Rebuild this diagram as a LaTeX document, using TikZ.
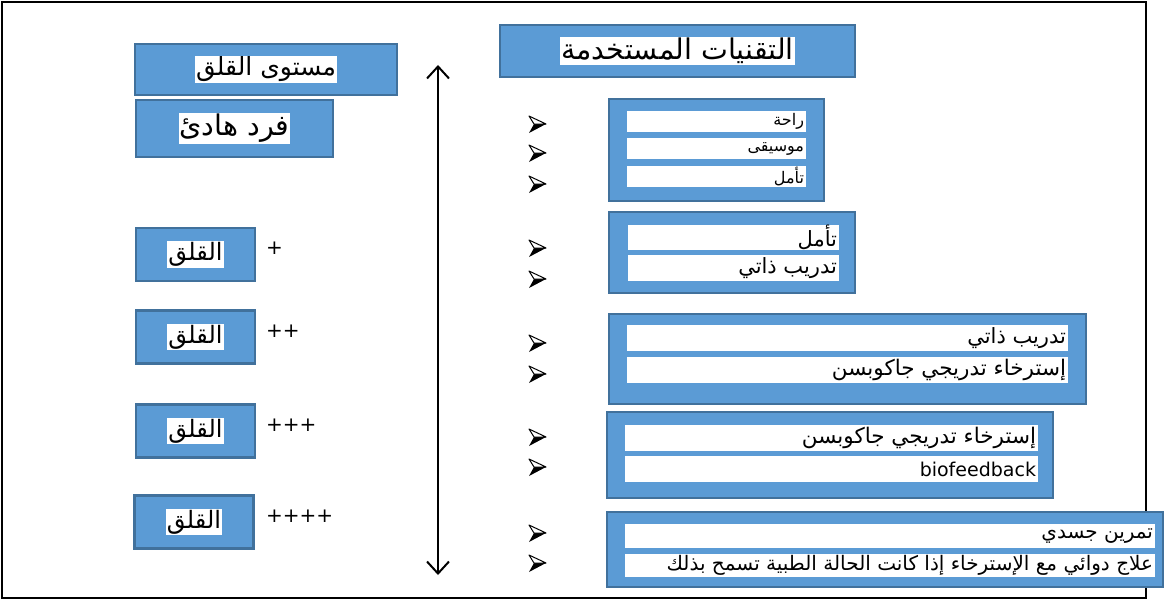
\documentclass[tikz,border=0pt]{standalone}
\usepackage{fontspec}
\usetikzlibrary{arrows.meta}
\TeXXeTstate=1
\newfontfamily\arabicfont[Script=Arabic]{DejaVu Sans}
\newfontfamily\latinfont{DejaVu Sans}
\definecolor{boxblue}{HTML}{5B9BD5}
\definecolor{boxedge}{HTML}{41719C}
\newcommand{\artext}[1]{{\arabicfont\beginR #1\endR}}
\begin{document}
\begin{tikzpicture}[x=1pt,y=-1pt,
  bluebox/.style={draw=boxedge, fill=boxblue, line width=2.5pt, inner sep=0pt},
  whitelabel/.style={fill=white, inner sep=1pt},
  strip/.style={fill=white, inner sep=0pt, minimum height=#1},
  strip/.default=25pt,
  striptext/.style={anchor=east, inner sep=0pt, xshift=-2pt},
  plustext/.style={anchor=west, inner sep=0pt, font=\latinfont\fontsize{20}{22}\selectfont},
  arrowbullet/.pic={
    \fill[black] (-3,0) -- (9,0) -- (-8,9) -- cycle;
    \draw[black, fill=white, line width=1pt, line join=round] (-8,-8) -- (9,0) -- (-3,0) -- cycle;
  }
]
\useasboundingbox (0,0) rectangle (1169,602);
\fill[white] (0,0) rectangle (1169,602);
\draw[line width=1.8pt] (2,2) rectangle (1146,598);

% left column
\node[bluebox, minimum width=262pt, minimum height=51pt] (lvl) at (266,69.5) {};
\node[whitelabel, font=\fontsize{25}{28}\selectfont] (lvltext) at (lvl) {\artext{مستوى القلق}};
\node[bluebox, minimum width=197pt, minimum height=57pt] (calm) at (234.5,128.5) {};
\node[whitelabel, font=\fontsize{28.5}{32}\selectfont] (calmtext) at (calm) {\artext{فرد هادئ}};

\foreach \i/\cx/\cy/\pl in {1/195.5/254.5/+, 2/195.5/337/++, 3/195.5/431/+++, 4/194/522/++++}{
  \node[bluebox, minimum width=119pt, minimum height=53pt] (anx\i) at (\cx,\cy) {};
  \node[whitelabel, font=\fontsize{24}{26}\selectfont] (anxtext\i) at (anx\i) {\artext{القلق}};
  \node[plustext] (plus\i) at (266,\cy-6) {\pl};
}

% vertical double arrow
\coordinate (atop) at (438,65);
\coordinate (abot) at (438,575);
\draw[line width=2pt, {Straight Barb[length=12pt,width=22pt,line width=2pt]}-{Straight Barb[length=12pt,width=22pt,line width=2pt]}] (atop) -- (abot);

% right column
\node[bluebox, minimum width=355pt, minimum height=52pt] (tech) at (677.5,51) {};
\node[whitelabel, font=\fontsize{28.5}{32}\selectfont] (techtext) at (tech) {\artext{التقنيات المستخدمة}};

\node[bluebox, minimum width=215pt, minimum height=102pt] (b1) at (716.5,150) {};
\node[strip=21pt, minimum width=179pt] (s11) at (716.5,121.5) {};
\node[strip=21pt, minimum width=179pt] (s12) at (716.5,148.5) {};
\node[strip=21pt, minimum width=179pt] (s13) at (716.5,176.5) {};
\node[striptext, font=\fontsize{16}{18}\selectfont] (t11) at (s11.east) {\artext{راحة}};
\node[striptext, font=\fontsize{16}{18}\selectfont] (t12) at (s12.east) {\artext{موسيقى}};
\node[striptext, font=\fontsize{16}{18}\selectfont] (t13) at (s13.east) {\artext{تأمل}};

\node[bluebox, minimum width=246pt, minimum height=81pt] (b2) at (732,252.5) {};
\node[strip=25pt, minimum width=211pt] (s21) at (733.5,237.5) {};
\node[strip=26pt, minimum width=211pt] (s22) at (733.5,268) {};
\node[striptext, font=\fontsize{21}{24}\selectfont] (t21) at (s21.east) {\artext{تأمل}};
\node[striptext, font=\fontsize{21}{24}\selectfont] (t22) at (s22.east) {\artext{تدريب ذاتي}};

\node[bluebox, minimum width=477pt, minimum height=90pt] (b3) at (847.5,359) {};
\node[strip=26pt, minimum width=441pt] (s31) at (847.5,338) {};
\node[strip=26pt, minimum width=441pt] (s32) at (847.5,370) {};
\node[striptext, font=\fontsize{21}{24}\selectfont] (t31) at (s31.east) {\artext{تدريب ذاتي}};
\node[striptext, font=\fontsize{21.5}{24}\selectfont] (t32) at (s32.east) {\artext{إسترخاء تدريجي جاكوبسن}};

\node[bluebox, minimum width=446pt, minimum height=86pt] (b4) at (830,455) {};
\node[strip=26pt, minimum width=413pt] (s41) at (831.5,438) {};
\node[strip=26pt, minimum width=413pt] (s42) at (831.5,469) {};
\node[striptext, font=\fontsize{21.5}{24}\selectfont] (t41) at (s41.east) {\artext{إسترخاء تدريجي جاكوبسن}};
\node[striptext, font=\latinfont\fontsize{19}{22}\selectfont] (t42) at (s42.east) {biofeedback};

\node[bluebox, minimum width=556pt, minimum height=75pt] (b5) at (885,549.5) {};
\node[strip=24pt, minimum width=530pt] (s51) at (890,536) {};
\node[strip=23pt, minimum width=530pt] (s52) at (890,565.5) {};
\node[striptext, font=\fontsize{20}{22}\selectfont] (t51) at (s51.east) {\artext{تمرين جسدي}};
\node[striptext, font=\fontsize{20}{22}\selectfont] (t52) at (s52.east) {\artext{علاج دوائي مع الإسترخاء إذا كانت الحالة الطبية تسمح بذلك}};

% bullets
\foreach \by in {124,153,184,248,279,343,374,437,467,533,563}{
  \pic at (537,\by) {arrowbullet};
}
\end{tikzpicture}
\end{document}
